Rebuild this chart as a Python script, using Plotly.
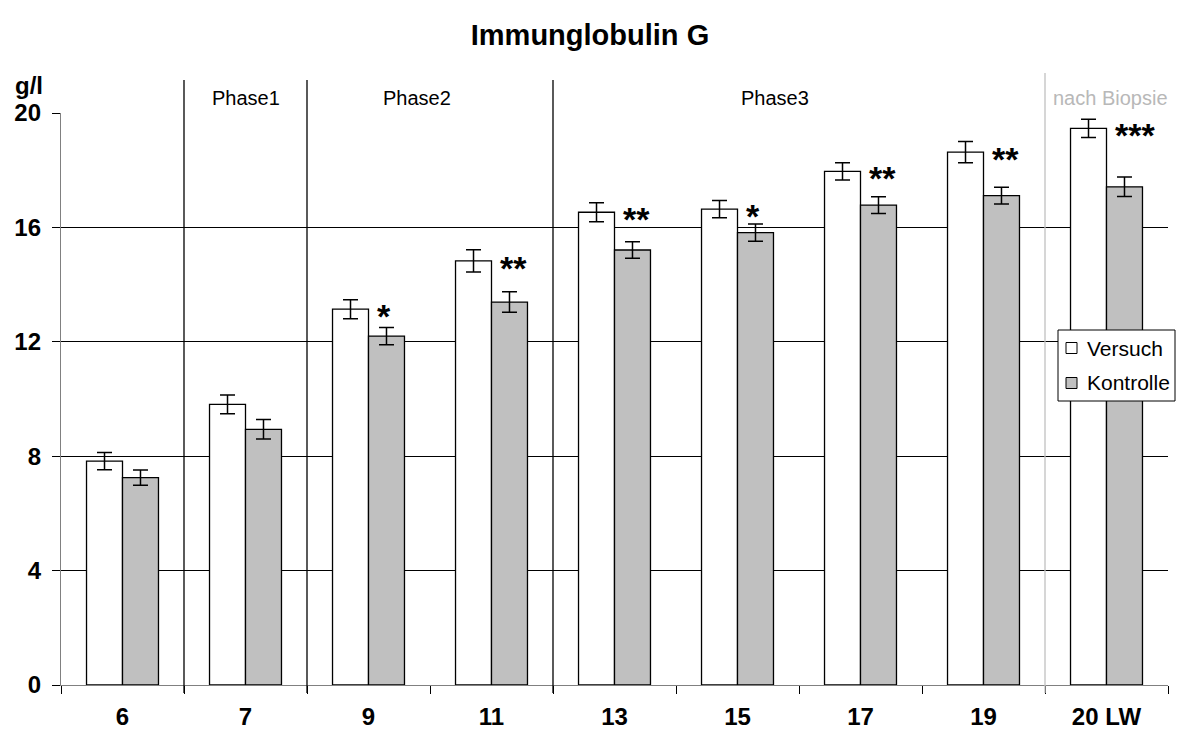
import plotly.graph_objects as go

# Lebenswoche (LW) and IgG concentration in g/l
weeks = ["6", "7", "9", "11", "13", "15", "17", "19", "20 LW"]
versuch = [7.83, 9.81, 13.14, 14.83, 16.53, 16.64, 17.96, 18.63, 19.46]
versuch_err = [0.30, 0.33, 0.33, 0.39, 0.33, 0.30, 0.30, 0.37, 0.32]
kontrolle = [7.25, 8.94, 12.20, 13.39, 15.21, 15.82, 16.78, 17.11, 17.42]
kontrolle_err = [0.27, 0.34, 0.30, 0.36, 0.29, 0.30, 0.29, 0.29, 0.34]
signif = ["", "", "*", "**", "**", "*", "**", "**", "***"]

# study phases: label, category boundary where the phase starts, colour
phase_labels = ["Phase1", "Phase2", "Phase3", "nach Biopsie"]
phase_bounds = [0.5, 1.5, 3.5, 7.5]
phase_colors = ["black", "black", "black", "#c0c0c0"]
phase_label_px = [246, 417, 775, 1110]

FONT = "Arial, Liberation Sans, sans-serif"
BAR_LINE = dict(color="black", width=1.3)
FILL_V, FILL_K = "white", "#c0c0c0"

# plot area in pixels
L, R, T, B = 61, 1168, 113, 685


def px_x(p):
    return (p - L) / (R - L)


def px_y(p):
    return (B - p) / (B - T)


fig = go.Figure()
fig.add_trace(go.Bar(
    name="Versuch", x=list(range(len(weeks))), y=versuch,
    marker=dict(color=FILL_V, line=BAR_LINE),
    error_y=dict(type="data", array=versuch_err, color="black", thickness=1.5, width=7.5),
))
fig.add_trace(go.Bar(
    name="Kontrolle", x=list(range(len(weeks))), y=kontrolle,
    marker=dict(color=FILL_K, line=BAR_LINE),
    error_y=dict(type="data", array=kontrolle_err, color="black", thickness=1.5, width=7.5),
))

shapes = []
for b, c in zip(phase_bounds, phase_colors):
    shapes.append(dict(type="line", xref="x", yref="paper", x0=b, x1=b,
                       y0=px_y(693), y1=px_y(80 if c == "black" else 73),
                       line=dict(color=c, width=1.3), layer="above"))

annotations = []
for lab, lx, c in zip(phase_labels, phase_label_px, phase_colors):
    annotations.append(dict(text=lab, x=px_x(lx), y=px_y(98), xref="paper", yref="paper",
                            showarrow=False, xanchor="center", yanchor="middle",
                            font=dict(family=FONT, size=20,
                                      color="black" if c == "black" else "#b8b8b8")))

# significance marks next to the Kontrolle bars
for i, (s, v) in enumerate(zip(signif, versuch)):
    if s:
        annotations.append(dict(text=s, x=i, y=v, xref="x", yref="y",
                                showarrow=False, xanchor="left", yanchor="middle",
                                xshift=6, yshift=-7,
                                font=dict(family=FONT, size=34, color="black", weight="bold")))

# unit label above the y axis
annotations.append(dict(text="g/l", x=px_x(29), y=px_y(86), xref="paper", yref="paper",
                        showarrow=False, xanchor="center", yanchor="middle",
                        font=dict(family=FONT, size=24, color="black", weight="bold")))

# legend box
LEG_X0, LEG_X1, LEG_Y0, LEG_Y1 = 1058, 1175, 330, 401
shapes.append(dict(type="rect", xref="paper", yref="paper",
                   x0=px_x(LEG_X0), x1=px_x(LEG_X1), y0=px_y(LEG_Y1), y1=px_y(LEG_Y0),
                   fillcolor="white", line=dict(color="black", width=1), layer="above"))
for name, fill, cy in [("Versuch", FILL_V, 348), ("Kontrolle", FILL_K, 383)]:
    shapes.append(dict(type="rect", xref="paper", yref="paper",
                       x0=px_x(1066), x1=px_x(1077), y0=px_y(cy + 5.5), y1=px_y(cy - 5.5),
                       fillcolor=fill, line=dict(color="black", width=1), layer="above"))
    annotations.append(dict(text=name, x=px_x(1085), y=px_y(cy), xref="paper", yref="paper",
                            showarrow=False, xanchor="left", yanchor="middle",
                            font=dict(family=FONT, size=21, color="black")))

fig.update_layout(
    width=1180, height=731,
    margin=dict(l=L, r=1180 - R, t=T, b=731 - B),
    paper_bgcolor="white", plot_bgcolor="white",
    title=dict(text="Immunglobulin G", x=0.5, xanchor="center",
               y=1 - 35 / 731, yanchor="middle",
               font=dict(family=FONT, size=29, color="black", weight="bold")),
    barmode="group", bargap=0.415, bargroupgap=0,
    showlegend=False,
    shapes=shapes,
    annotations=annotations,
    font=dict(family=FONT, color="black"),
)
fig.update_xaxes(
    tickmode="array", tickvals=list(range(len(weeks))), ticktext=weeks,
    ticks="", showline=True, linecolor="#808080", linewidth=1.3,
    showgrid=False, range=[-0.5, len(weeks) - 0.5],
    ticklabelstandoff=10, automargin=False,
    tickfont=dict(family=FONT, size=24, color="black", weight="bold"),
    minor=dict(tickmode="array", tickvals=[i - 0.5 for i in range(len(weeks) + 1)],
               ticks="outside", ticklen=8, tickcolor="black", tickwidth=1.3, showgrid=False),
)
fig.update_yaxes(
    range=[0, 20], tickvals=[0, 4, 8, 12, 16, 20], ticks="outside", ticklen=8,
    tickcolor="black", showline=True, linecolor="#808080", linewidth=1.3,
    showgrid=True, gridcolor="black", gridwidth=1, zeroline=False,
    ticklabelstandoff=6, automargin=False,
    tickfont=dict(family=FONT, size=24, color="black", weight="bold"),
)

fig.write_html("out.html")
